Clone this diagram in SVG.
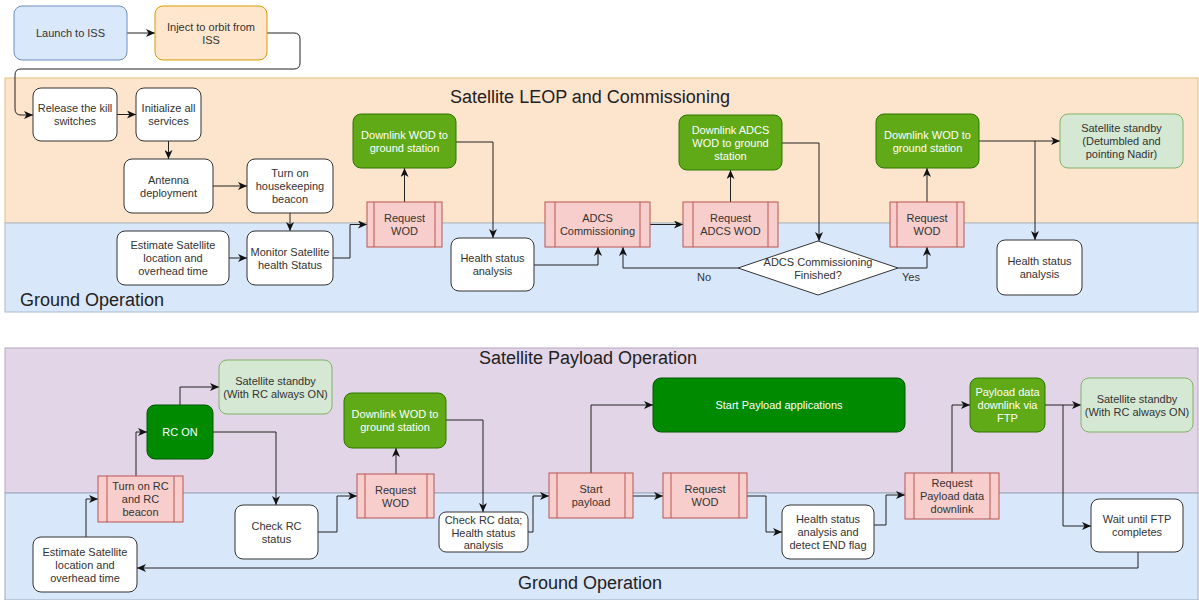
<svg xmlns="http://www.w3.org/2000/svg" width="1199" height="600" viewBox="0 0 1199 600">
<style>
text{font-family:"Liberation Sans",Arial,sans-serif;font-size:11px;fill:#333;text-anchor:middle}
.title{font-size:18px;fill:#222}
.lbl{font-size:11px}
.wt{fill:#fff}
.w{fill:#fff;stroke:#333;stroke-width:1}
.g{fill:#60a917;stroke:#2d7600;stroke-width:1}
.dg{fill:#008a00;stroke:#005700;stroke-width:1}
.lg{fill:#d5e8d4;stroke:#82b366;stroke-width:1}
.p{fill:#f8cecc;stroke:#b85450;stroke-width:1}
.pl{stroke:#b85450;stroke-width:1}
.c{fill:none;stroke:#222;stroke-width:1;marker-end:url(#ah)}
</style>
<defs>
<marker id="ah" markerUnits="userSpaceOnUse" markerWidth="9" markerHeight="8" refX="9" refY="4" orient="auto"><path d="M0,0 L9,4 L0,8 L2.5,4 z" fill="#111"/></marker>
</defs>
<rect width="1199" height="600" fill="#fff"/>
<g id="bands">
<rect x="5" y="78" width="1193" height="145" fill="#fde4cd" stroke="#e0bf80" stroke-width="1"/>
<rect x="5" y="223" width="1193" height="89" fill="#d9e7fb" stroke="#aab8cc" stroke-width="1"/>
<rect x="5" y="348" width="1193" height="145" fill="#e1d5e7" stroke="#b8a6c0" stroke-width="1"/>
<rect x="5" y="493" width="1193" height="107" fill="#d9e7fb" stroke="#9aa8bc" stroke-width="1"/>
<text class="title" x="590" y="103">Satellite LEOP and Commissioning</text>
<text class="title" x="20" y="306" style="text-anchor:start">Ground Operation</text>
<text class="title" x="588" y="364">Satellite Payload Operation</text>
<text class="title" x="590" y="589">Ground Operation</text>
</g>
<g id="connectors">
<path class="c" d="M127,33 H155"/>
<path class="c" d="M267,33 H294 Q300,33 300,39 V63 Q300,69 294,69 H21 Q15,69 15,75 V109 Q15,115 21,115 H33"/>
<path class="c" d="M117,114.5 H136"/>
<path class="c" d="M168.5,141 V159"/>
<path class="c" d="M213,186 H247"/>
<path class="c" d="M290,213 V231"/>
<path class="c" d="M229,258 H247"/>
<path class="c" d="M333,258 H350 V224.5 H367"/>
<path class="c" d="M404.5,202 V168"/>
<path class="c" d="M456,142 H493 V238"/>
<path class="c" d="M534,265 H598 V247"/>
<path class="c" d="M650,224.5 H683"/>
<path class="c" d="M730.5,202 V170"/>
<path class="c" d="M782,143 H819 V241"/>
<path class="c" d="M738,268 H623 V247"/>
<path class="c" d="M898,268 H927 V247"/>
<path class="c" d="M927,202 V168"/>
<path class="c" d="M979,141 H1060"/>
<path class="c" d="M1035,141 V240"/>
<path class="c" d="M86,537 V499 H98"/>
<path class="c" d="M136,476 V432 H147"/>
<path class="c" d="M180,405 V387 H219"/>
<path class="c" d="M213,432 H276 V505"/>
<path class="c" d="M318,532 H337 V496 H357"/>
<path class="c" d="M396,474 V448"/>
<path class="c" d="M446,420 H483 V512"/>
<path class="c" d="M528,532 H533 V496 H549"/>
<path class="c" d="M591,473 V405 H653"/>
<path class="c" d="M633,496 H663"/>
<path class="c" d="M747,496 H766 V532 H782"/>
<path class="c" d="M874,525 H886 V495 H905"/>
<path class="c" d="M952,473 V405 H970"/>
<path class="c" d="M1045,405 H1081"/>
<path class="c" d="M1063,405 V526 H1091"/>
<path class="c" d="M1138,552 V568 H137"/>
<text class="lbl" x="704" y="281">No</text>
<text class="lbl" x="911" y="281">Yes</text>
</g>
<g id="launch"><rect x="14" y="6" width="113" height="54" rx="8" fill="#dae8fc" stroke="#6c8ebf"/><text x="70.5" y="37">Launch to ISS</text></g>
<g id="inject"><rect x="155" y="6" width="112" height="54" rx="8" fill="#ffe6cc" stroke="#d79b00"/><text x="211" y="31">Inject to orbit from</text><text x="211" y="44">ISS</text></g>
<g id="release"><rect class="w" x="33" y="88" width="84" height="53" rx="8"/><text x="75" y="112">Release the kill</text><text x="75" y="125">switches</text></g>
<g id="initialize"><rect class="w" x="136" y="88" width="65" height="53" rx="8"/><text x="168.5" y="112">Initialize all</text><text x="168.5" y="125">services</text></g>
<g id="antenna"><rect class="w" x="124" y="159" width="89" height="54" rx="8"/><text x="168.5" y="183.5">Antenna</text><text x="168.5" y="196.5">deployment</text></g>
<g id="beacon"><rect class="w" x="247" y="159" width="86" height="54" rx="8"/><text x="290" y="177">Turn on</text><text x="290" y="190">housekeeping</text><text x="290" y="203">beacon</text></g>
<g id="estimate1"><rect class="w" x="117" y="231" width="112" height="54" rx="8"/><text x="173" y="249">Estimate Satellite</text><text x="173" y="262">location and</text><text x="173" y="275">overhead time</text></g>
<g id="monitor"><rect class="w" x="247" y="231" width="86" height="54" rx="8"/><text x="290" y="255.5">Monitor Satellite</text><text x="290" y="268.5">health Status</text></g>
<g id="reqwod1"><rect class="p" x="367" y="202" width="75" height="45"/><path class="pl" d="M374,202 V247 M435,202 V247"/><text x="404.5" y="222">Request</text><text x="404.5" y="235">WOD</text></g>
<g id="dlwod1"><rect class="g" x="353" y="114" width="103" height="54" rx="8"/><text class="wt" x="404.5" y="138.5">Downlink WOD to</text><text class="wt" x="404.5" y="151.5">ground station</text></g>
<g id="health1"><rect class="w" x="451" y="238" width="83" height="53" rx="8"/><text x="492.5" y="262">Health status</text><text x="492.5" y="275">analysis</text></g>
<g id="adcscomm"><rect class="p" x="545" y="202" width="105" height="45"/><path class="pl" d="M555,202 V247 M640,202 V247"/><text x="597.5" y="222">ADCS</text><text x="597.5" y="235">Commissioning</text></g>
<g id="reqadcs"><rect class="p" x="683" y="202" width="95" height="45"/><path class="pl" d="M693,202 V247 M768,202 V247"/><text x="730.5" y="222">Request</text><text x="730.5" y="235">ADCS WOD</text></g>
<g id="dladcs"><rect class="g" x="679" y="115" width="103" height="55" rx="8"/><text class="wt" x="730.5" y="134">Downlink ADCS</text><text class="wt" x="730.5" y="147">WOD to ground</text><text class="wt" x="730.5" y="160">station</text></g>
<g id="decision"><polygon points="818,241 898,268 818,295 738,268" fill="#fff" stroke="#333"/><text x="818" y="265.5">ADCS Commissioning</text><text x="818" y="278.5">Finished?</text></g>
<g id="reqwod2"><rect class="p" x="890" y="202" width="74" height="45"/><path class="pl" d="M897,202 V247 M957,202 V247"/><text x="927" y="222">Request</text><text x="927" y="235">WOD</text></g>
<g id="dlwod2"><rect class="g" x="876" y="114" width="103" height="54" rx="8"/><text class="wt" x="927.5" y="138.5">Downlink WOD to</text><text class="wt" x="927.5" y="151.5">ground station</text></g>
<g id="standby1"><rect class="lg" x="1060" y="114" width="123" height="54" rx="8"/><text x="1121.5" y="132">Satellite standby</text><text x="1121.5" y="145">(Detumbled and</text><text x="1121.5" y="158">pointing Nadir)</text></g>
<g id="health2"><rect class="w" x="997" y="240" width="85" height="55" rx="8"/><text x="1039.5" y="265">Health status</text><text x="1039.5" y="278">analysis</text></g>
<g id="estimate2"><rect class="w" x="33" y="537" width="104" height="55" rx="8"/><text x="85" y="555.5">Estimate Satellite</text><text x="85" y="568.5">location and</text><text x="85" y="581.5">overhead time</text></g>
<g id="turnonrc"><rect class="p" x="98" y="476" width="85" height="46"/><path class="pl" d="M107,476 V522 M174,476 V522"/><text x="140.5" y="490">Turn on RC</text><text x="140.5" y="503">and RC</text><text x="140.5" y="516">beacon</text></g>
<g id="rcon"><rect class="dg" x="147" y="405" width="66" height="54" rx="8"/><text class="wt" x="180" y="436">RC ON</text></g>
<g id="standby2"><rect class="lg" x="219" y="360" width="113" height="54" rx="8"/><text x="275.5" y="384.5">Satellite standby</text><text x="275.5" y="397.5">(With RC always ON)</text></g>
<g id="checkrc"><rect class="w" x="235" y="505" width="83" height="54" rx="8"/><text x="276.5" y="529.5">Check RC</text><text x="276.5" y="542.5">status</text></g>
<g id="reqwod3"><rect class="p" x="357" y="474" width="77" height="44"/><path class="pl" d="M365,474 V518 M427,474 V518"/><text x="395.5" y="493.5">Request</text><text x="395.5" y="506.5">WOD</text></g>
<g id="dlwod3"><rect class="g" x="344" y="393" width="102" height="55" rx="8"/><text class="wt" x="395" y="418">Downlink WOD to</text><text class="wt" x="395" y="431">ground station</text></g>
<g id="checkrcdata"><rect class="w" x="439" y="512" width="89" height="40" rx="7"/><text x="483.5" y="524">Check RC data;</text><text x="483.5" y="536.5">Health status</text><text x="483.5" y="549">analysis</text></g>
<g id="startpayload"><rect class="p" x="549" y="473" width="84" height="45"/><path class="pl" d="M557,473 V518 M625,473 V518"/><text x="591" y="493">Start</text><text x="591" y="506">payload</text></g>
<g id="startapps"><rect class="dg" x="653" y="378" width="252" height="54" rx="8"/><text class="wt" x="779" y="409">Start Payload applications</text></g>
<g id="reqwod4"><rect class="p" x="663" y="473" width="84" height="45"/><path class="pl" d="M671,473 V518 M739,473 V518"/><text x="705" y="493">Request</text><text x="705" y="506">WOD</text></g>
<g id="healthend"><rect class="w" x="782" y="505" width="92" height="54" rx="8"/><text x="828" y="523">Health status</text><text x="828" y="536">analysis and</text><text x="828" y="549">detect END flag</text></g>
<g id="reqpayload"><rect class="p" x="905" y="473" width="94" height="46"/><path class="pl" d="M914,473 V519 M990,473 V519"/><text x="952" y="487">Request</text><text x="952" y="500">Payload data</text><text x="952" y="513">downlink</text></g>
<g id="ftp"><rect class="g" x="970" y="378" width="75" height="54" rx="8"/><text class="wt" x="1007.5" y="396">Payload data</text><text class="wt" x="1007.5" y="409">downlink via</text><text class="wt" x="1007.5" y="422">FTP</text></g>
<g id="standby3"><rect class="lg" x="1081" y="378" width="112" height="54" rx="8"/><text x="1137" y="402.5">Satellite standby</text><text x="1137" y="415.5">(With RC always ON)</text></g>
<g id="wait"><rect class="w" x="1091" y="499" width="92" height="53" rx="8"/><text x="1137" y="523">Wait until FTP</text><text x="1137" y="536">completes</text></g>
</svg>
